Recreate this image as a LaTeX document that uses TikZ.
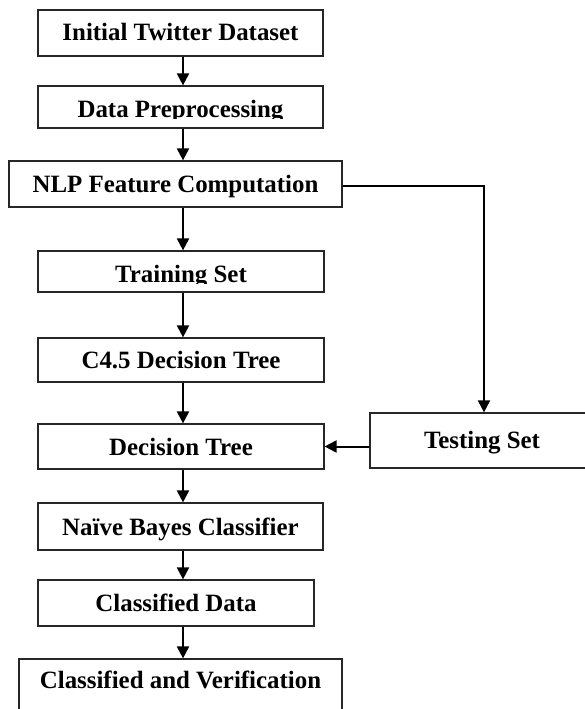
\documentclass[tikz,border=0pt]{standalone}
\usepackage{fontspec}
\setmainfont{Liberation Serif}
\usetikzlibrary{arrows.meta}
\begin{document}
\begin{tikzpicture}[x=1pt,y=-1pt,
  stagebox/.style={draw=black!85, line width=1.2pt, rectangle, inner sep=0pt, fill=white},
  lbl/.style={anchor=base, inner sep=0pt, font=\fontsize{24.9}{30}\selectfont\bfseries},
  arr/.style={line width=2pt, -{Triangle[length=12pt,width=12pt]}}]
\useasboundingbox (0,0) rectangle (585,709);

% boxes of the pipeline
\node[stagebox, minimum width=285pt, minimum height=46pt] (b1) at (180.5,33) {};
\node[stagebox, minimum width=285pt, minimum height=42pt] (b2) at (180.5,107) {};
\node[stagebox, minimum width=333pt, minimum height=46pt] (b3) at (175.5,184) {};
\node[stagebox, minimum width=286pt, minimum height=41pt] (b4) at (181,271.5) {};
\node[stagebox, minimum width=286pt, minimum height=44pt] (b5) at (181,360) {};
\node[stagebox, minimum width=286pt, minimum height=45pt] (b6) at (181,446.5) {};
\node[stagebox, minimum width=224pt, minimum height=55pt] (b7) at (482,440.5) {};
\node[stagebox, minimum width=285pt, minimum height=47pt] (b8) at (180.5,526.5) {};
\node[stagebox, minimum width=276pt, minimum height=46pt] (b9) at (176,603) {};
\node[stagebox, minimum width=323pt, minimum height=64pt] (b10) at (180.5,691) {};

% labels
\node[lbl] (t1) at ([yshift=-8pt]b1.center) {Initial Twitter Dataset};
\begin{scope}
  \clip (38,86) rectangle (323,118);
  \node[lbl] (t2) at (180.5,117) {Data Preprocessing};
\end{scope}
\node[lbl] (t3) at ([yshift=-8pt]b3.center) {NLP Feature Computation};
\begin{scope}
  \clip (38,251) rectangle (324,283);
  \node[lbl] (t4) at (181,282) {Training Set};
\end{scope}
\node[lbl] (t5) at ([yshift=-8.5pt]b5.center) {C4.5 Decision Tree};
\node[lbl] (t6) at ([yshift=-8.5pt]b6.center) {Decision Tree};
\node[lbl] (t7) at ([yshift=-8pt]b7.center) {Testing Set};
\node[lbl] (t8) at ([yshift=-8.5pt]b8.center) {Naïve Bayes Classifier};
\node[lbl] (t9) at ([yshift=-8.5pt]b9.center) {Classified Data};
\node[lbl] (t10) at (180.5,688) {Classified and Verification};

% main flow
\coordinate (sp) at (183,0);
\draw[arr] (b1.south -| sp) -- (b2.north -| sp);
\draw[arr] (b2.south -| sp) -- (b3.north -| sp);
\draw[arr] (b3.south -| sp) -- (b4.north -| sp);
\draw[arr] (b4.south -| sp) -- (b5.north -| sp);
\draw[arr] (b5.south -| sp) -- (b6.north -| sp);
\draw[arr] (b6.south -| sp) -- (b8.north -| sp);
\draw[arr] (b8.south -| sp) -- (b9.north -| sp);
\draw[arr] (b9.south -| sp) -- (b10.north -| sp);

% testing branch
\coordinate (tk) at (484,186);
\draw[arr] (b3.east |- tk) -- (tk) -- (b7.north -| tk);
\draw[arr] (b7.west |- b6.east) -- (b6.east);
\end{tikzpicture}
\end{document}
